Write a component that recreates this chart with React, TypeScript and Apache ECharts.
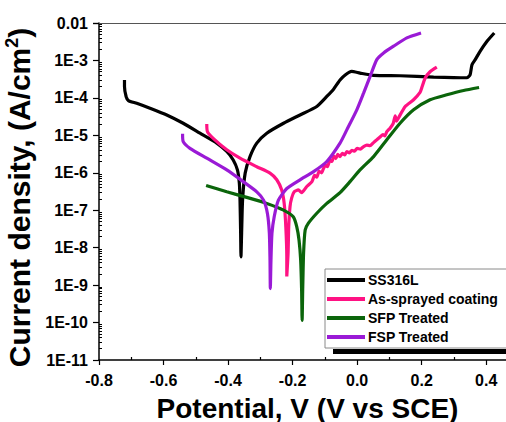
import React, { useEffect, useRef } from "react";
import * as echarts from "echarts";

// Tafel polarisation curves: [potential V vs SCE, current density A/cm^2]
const ss316L: [number, number][] = [
  [-0.721, 3.0e-4], [-0.721, 2.0e-4], [-0.716, 1.09e-4], [-0.709, 8.5e-5], [-0.683, 7.2e-5],
  [-0.642, 5.3e-5], [-0.59, 3.5e-5], [-0.539, 2.1e-5], [-0.487, 1.14e-5], [-0.435, 6.2e-6],
  [-0.404, 3.7e-6], [-0.384, 2.2e-6], [-0.371, 1.19e-6], [-0.365, 5.2e-7], [-0.363, 1.9e-7],
  [-0.361, 2.4e-8], [-0.36, 5.7e-9], [-0.358, 2.4e-8], [-0.355, 1.9e-7], [-0.347, 9.8e-7],
  [-0.332, 2.7e-6], [-0.311, 6.2e-6], [-0.28, 1.14e-5], [-0.228, 2.1e-5], [-0.177, 3.5e-5],
  [-0.125, 5.9e-5], [-0.094, 1.09e-4], [-0.073, 1.71e-4], [-0.053, 3.0e-4], [-0.037, 4.1e-4],
  [-0.017, 5.1e-4], [0.009, 4.6e-4], [0.051, 4.0e-4], [0.133, 3.9e-4], [0.237, 3.6e-4],
  [0.34, 3.45e-4], [0.35, 4.1e-4], [0.356, 7.7e-4], [0.366, 1.05e-3], [0.381, 1.75e-3],
  [0.402, 3.2e-3], [0.425, 5.4e-3],
];

const asSprayed: [number, number][] = [
  [-0.466, 2.0e-5], [-0.464, 1.26e-5], [-0.446, 8.3e-6], [-0.404, 4.1e-6], [-0.363, 2.45e-6],
  [-0.311, 1.45e-6], [-0.27, 9.8e-7], [-0.249, 6.5e-7], [-0.234, 3.5e-7], [-0.226, 1.5e-7],
  [-0.221, 3.6e-8], [-0.218, 5.7e-9], [-0.218, 1.7e-9], [-0.214, 7.0e-9], [-0.212, 3.6e-8],
  [-0.208, 1.24e-7], [-0.203, 2.1e-7], [-0.195, 3.1e-7], [-0.182, 3.5e-7], [-0.172, 2.95e-7],
  [-0.156, 4.3e-7], [-0.14, 5.8e-7], [-0.132, 8.5e-7], [-0.125, 7.6e-7], [-0.118, 1.1e-6],
  [-0.11, 1.0e-6], [-0.104, 1.32e-6], [-0.098, 1.6e-6], [-0.092, 1.45e-6], [-0.084, 2.2e-6],
  [-0.078, 2.0e-6], [-0.072, 2.8e-6], [-0.066, 2.4e-6], [-0.06, 3.1e-6], [-0.053, 2.7e-6],
  [-0.046, 3.3e-6], [-0.038, 3.0e-6], [-0.032, 3.7e-6], [-0.024, 3.4e-6], [-0.016, 4.0e-6],
  [-0.008, 3.8e-6], [0.0, 4.5e-6], [0.01, 4.3e-6], [0.02, 5.0e-6], [0.03, 5.5e-6],
  [0.04, 5.3e-6], [0.05, 6.3e-6], [0.061, 7.6e-6], [0.072, 9.2e-6], [0.08, 1.05e-5],
  [0.086, 9.6e-6], [0.092, 1.25e-5], [0.102, 1.55e-5], [0.112, 2.1e-5], [0.118, 3.3e-5],
  [0.122, 2.4e-5], [0.128, 2.9e-5], [0.149, 5.9e-5], [0.175, 8.9e-5], [0.195, 1.4e-4],
  [0.2, 1.82e-4], [0.211, 3.4e-4], [0.226, 5.0e-4], [0.247, 6.6e-4],
];

const sfpTreated: [number, number][] = [
  [-0.468, 4.6e-7], [-0.404, 3.1e-7], [-0.342, 2.2e-7], [-0.28, 1.52e-7], [-0.228, 1.01e-7],
  [-0.198, 6.7e-8], [-0.187, 3.6e-8], [-0.18, 1.58e-8], [-0.175, 4.7e-9], [-0.172, 7.2e-10],
  [-0.1705, 1.15e-10], [-0.1685, 8.9e-10], [-0.166, 7.0e-9], [-0.161, 2.95e-8], [-0.151, 4.5e-8],
  [-0.125, 8.3e-8], [-0.094, 1.52e-7], [-0.053, 2.95e-7], [-0.022, 5.8e-7], [0.009, 1.19e-6],
  [0.051, 2.7e-6], [0.092, 7.6e-6], [0.133, 2.1e-5], [0.175, 4.8e-5], [0.226, 8.9e-5],
  [0.278, 1.21e-4], [0.33, 1.58e-4], [0.378, 1.9e-4],
];

const fspTreated: [number, number][] = [
  [-0.541, 1.1e-5], [-0.539, 6.8e-6], [-0.518, 4.5e-6], [-0.466, 2.45e-6], [-0.404, 1.19e-6],
  [-0.353, 5.8e-7], [-0.311, 3.1e-7], [-0.29, 1.86e-7], [-0.278, 8.2e-8], [-0.272, 2.4e-8],
  [-0.27, 4.7e-9], [-0.269, 8.1e-10], [-0.267, 4.7e-9], [-0.264, 2.4e-8], [-0.257, 6.7e-8],
  [-0.244, 1.86e-7], [-0.218, 3.8e-7], [-0.177, 6.5e-7], [-0.135, 1.07e-6], [-0.094, 2.0e-6],
  [-0.053, 6.2e-6], [-0.032, 1.4e-5], [-0.001, 4.8e-5], [0.02, 1.34e-4], [0.04, 3.7e-4],
  [0.061, 1.05e-3], [0.082, 1.58e-3], [0.113, 2.4e-3], [0.154, 4.0e-3], [0.198, 5.4e-3],
];

const seriesNames = ["SS316L", "As-sprayed coating", "SFP Treated", "FSP Treated"];
const seriesColors = ["#000000", "#ff1283", "#0b650b", "#9a1ad6"];
const yTickLabels = ["1E-11", "1E-10", "1E-9", "1E-8", "1E-7", "1E-6", "1E-5", "1E-4", "1E-3", "0.01"];
const xTickLabels = ["-0.8", "-0.6", "-0.4", "-0.2", "0.0", "0.2", "0.4"];

const FONT = "Liberation Sans, Arial, sans-serif";

export default function App() {
  const ref = useRef<HTMLDivElement>(null);
  useEffect(() => {
    if (!ref.current) return;
    const chart = echarts.init(ref.current, undefined, { renderer: "svg" });
    const dataSets = [ss316L, asSprayed, sfpTreated, fspTreated];
    chart.setOption({
      animation: false,
      backgroundColor: "#ffffff",
      grid: { left: 99, top: 23, right: -6, bottom: 62, containLabel: false, outerBoundsMode: "none" },
      legend: {
        orient: "vertical",
        left: 325,
        top: 269,
        data: seriesNames,
        icon: "rect",
        itemWidth: 38,
        itemHeight: 4,
        itemGap: 5,
        padding: [4, 60, 4, 2],
        borderColor: "#8a8a8a",
        borderWidth: 1,
        backgroundColor: "#ffffff",
        textStyle: { fontSize: 14, fontWeight: "bold", color: "#000", fontFamily: FONT, padding: [0, 0, 0, -2] },
        z: 10,
      },
      graphic: [
        { type: "rect", left: 333, top: 349, shape: { width: 200, height: 5 }, style: { fill: "#000" }, z: 9 },
      ],
      xAxis: [
        {
          type: "value",
          min: -0.8,
          max: 0.48,
          interval: 0.2,
          position: "bottom",
          name: "Potential, V (V vs SCE)",
          nameLocation: "middle",
          nameGap: 34,
          nameTextStyle: { fontSize: 28, fontWeight: "bold", color: "#000", fontFamily: FONT, padding: [0, 0, 0, 4] },
          axisLine: { show: true, onZero: false, lineStyle: { color: "#000", width: 1.5 } },
          axisTick: { show: true, length: 5, lineStyle: { color: "#000", width: 1.2 } },
          minorTick: { show: true, splitNumber: 2, length: -3, lineStyle: { color: "#000", width: 1.2 } },
          axisLabel: {
            margin: 12,
            fontSize: 16,
            fontWeight: "bold",
            color: "#000",
            fontFamily: FONT,
            formatter: (v: number) => {
              const i = Math.round((v + 0.8) / 0.2);
              return Math.abs(v - (-0.8 + i * 0.2)) < 1e-6 && i < xTickLabels.length ? xTickLabels[i] : "";
            },
          },
          splitLine: { show: false },
        },
        {
          type: "value",
          min: -0.8,
          max: 0.48,
          position: "top",
          axisLine: { show: true, onZero: false, lineStyle: { color: "#555", width: 1.2 } },
          axisTick: { show: false },
          axisLabel: { show: false },
          splitLine: { show: false },
        },
      ],
      yAxis: {
        type: "log",
        logBase: 10,
        min: 1e-11,
        max: 1e-2,
        interval: 1,
        splitNumber: 9,
        name: "Current density, (A/cm{sup|2})",
        nameLocation: "middle",
        nameGap: 54,
        nameTextStyle: {
          fontSize: 30,
          fontWeight: "bold",
          color: "#000",
          fontFamily: FONT,
          padding: [0, 12, 0, 0],
          rich: {
            sup: { fontSize: 18, fontWeight: "bold", color: "#000", fontFamily: FONT, verticalAlign: "top", padding: [0, 0, 14, 0] },
          },
        },
        axisLine: { show: true, onZero: false, lineStyle: { color: "#000", width: 1.5 } },
        axisTick: { show: true, length: 6, lineStyle: { color: "#000", width: 1.2 } },
        minorTick: { show: true, splitNumber: 9, length: -3, lineStyle: { color: "#000", width: 1 } },
        axisLabel: {
          margin: 11,
          fontSize: 16,
          fontWeight: "bold",
          color: "#000",
          fontFamily: FONT,
          formatter: (v: number) => {
            const i = Math.round(Math.log10(v)) + 11;
            return yTickLabels[i] ?? "";
          },
        },
        splitLine: { show: false },
      },
      series: dataSets.map((d, i) => ({
        name: seriesNames[i],
        type: "line",
        data: d,
        showSymbol: false,
        symbol: "none",
        smooth: 0.2,
        color: seriesColors[i],
        lineStyle: { color: seriesColors[i], width: 3.2 },
        z: 2 + i,
      })),
    });
    return () => chart.dispose();
  }, []);
  return <div ref={ref} style={{ position: "absolute", left: 0, top: 0, width: 506, height: 422 }} />;
}
